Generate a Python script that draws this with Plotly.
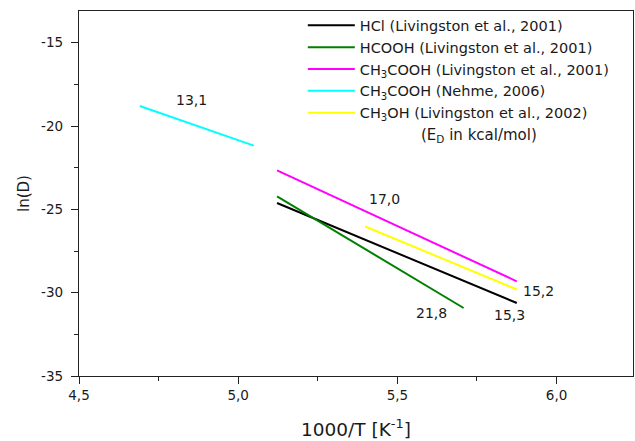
import plotly.graph_objects as go

# ---- data ----
series_names = [
    "HCl (Livingston et al., 2001)",
    "HCOOH (Livingston et al., 2001)",
    "CH<sub>3</sub>COOH (Livingston et al., 2001)",
    "CH<sub>3</sub>COOH (Nehme, 2006)",
    "CH<sub>3</sub>OH (Livingston et al., 2002)",
]
hcl_x = [5.122, 5.875]
hcl_y = [-24.62, -30.62]
hcooh_x = [5.122, 5.708]
hcooh_y = [-24.22, -30.92]
ch3cooh_liv_x = [5.122, 5.875]
ch3cooh_liv_y = [-22.66, -29.32]
ch3cooh_neh_x = [4.691, 5.049]
ch3cooh_neh_y = [-18.80, -21.18]
ch3oh_x = [5.399, 5.875]
ch3oh_y = [-26.03, -29.81]

label_text = ["13,1", "17,0", "15,2", "21,8", "15,3"]
label_x = [4.853, 5.460, 5.944, 5.606, 5.852]
label_y = [-18.42, -24.40, -29.90, -31.19, -31.31]

x_tickvals = [4.5, 5.0, 5.5, 6.0]
x_ticktext = ["4,5", "5,0", "5,5", "6,0"]
y_tickvals = [-35, -30, -25, -20, -15]
y_ticktext = ["-35", "-30", "-25", "-20", "-15"]

colors = ["#000000", "#008000", "#FF00FF", "#00FFFF", "#FFFF00"]
xs = [hcl_x, hcooh_x, ch3cooh_liv_x, ch3cooh_neh_x, ch3oh_x]
ys = [hcl_y, hcooh_y, ch3cooh_liv_y, ch3cooh_neh_y, ch3oh_y]

FONT = "DejaVu Sans"
TXT = "#1a1a1a"

fig = go.Figure()
for name, x, y, c in zip(series_names, xs, ys, colors):
    fig.add_trace(go.Scatter(x=x, y=y, mode="lines", name=name,
                             line=dict(color=c, width=2)))

for t, x, y in zip(label_text, label_x, label_y):
    fig.add_annotation(x=x, y=y, text=t, showarrow=False,
                       font=dict(family=FONT, size=14, color=TXT))

fig.add_annotation(xref="paper", yref="paper", x=0.7223, y=0.660,
                   xanchor="center", yanchor="middle",
                   text="(E<sub>D</sub> in kcal/mol)", showarrow=False,
                   font=dict(family=FONT, size=15, color=TXT))

axis_common = dict(showline=True, linecolor="#222222", linewidth=1.3,
                   mirror=True, showgrid=False, zeroline=False,
                   ticks="outside", ticklen=7, tickcolor="#222222",
                   tickfont=dict(family=FONT, size=13.5, color=TXT))

fig.update_xaxes(range=[4.5, 6.24], tickmode="array", tickvals=x_tickvals,
                 ticktext=x_ticktext,
                 minor=dict(dtick=0.25, tick0=4.5, ticklen=4,
                            ticks="outside", tickcolor="#222222"),
                 title=dict(text="1000/T [K<sup>-1</sup>]", standoff=20,
                            font=dict(family=FONT, size=18.5, color=TXT)),
                 **axis_common)
fig.update_yaxes(range=[-35, -13.1], tickmode="array", tickvals=y_tickvals,
                 ticktext=y_ticktext, ticklabelstandoff=5,
                 minor=dict(dtick=2.5, tick0=-35, ticklen=4,
                            ticks="outside", tickcolor="#222222"),
                 title=dict(text="ln(D)", standoff=7,
                            font=dict(family=FONT, size=15, color=TXT)),
                 **axis_common)

fig.update_layout(
    width=635, height=441,
    margin=dict(l=79, r=2, t=11, b=65, autoexpand=False),
    paper_bgcolor="white", plot_bgcolor="white",
    font=dict(family=FONT, color=TXT),
    legend=dict(x=0.404, y=1.0045, xanchor="left", yanchor="top",
                bgcolor="rgba(0,0,0,0)", borderwidth=0,
                font=dict(family=FONT, size=14.5, color=TXT),
                itemwidth=47, tracegroupgap=0),
    showlegend=True,
)

fig.write_html("out.html",
               config={"displayModeBar": False},
               post_script="document.body.style.margin='0px';"
                           "document.body.style.padding='0px';")
